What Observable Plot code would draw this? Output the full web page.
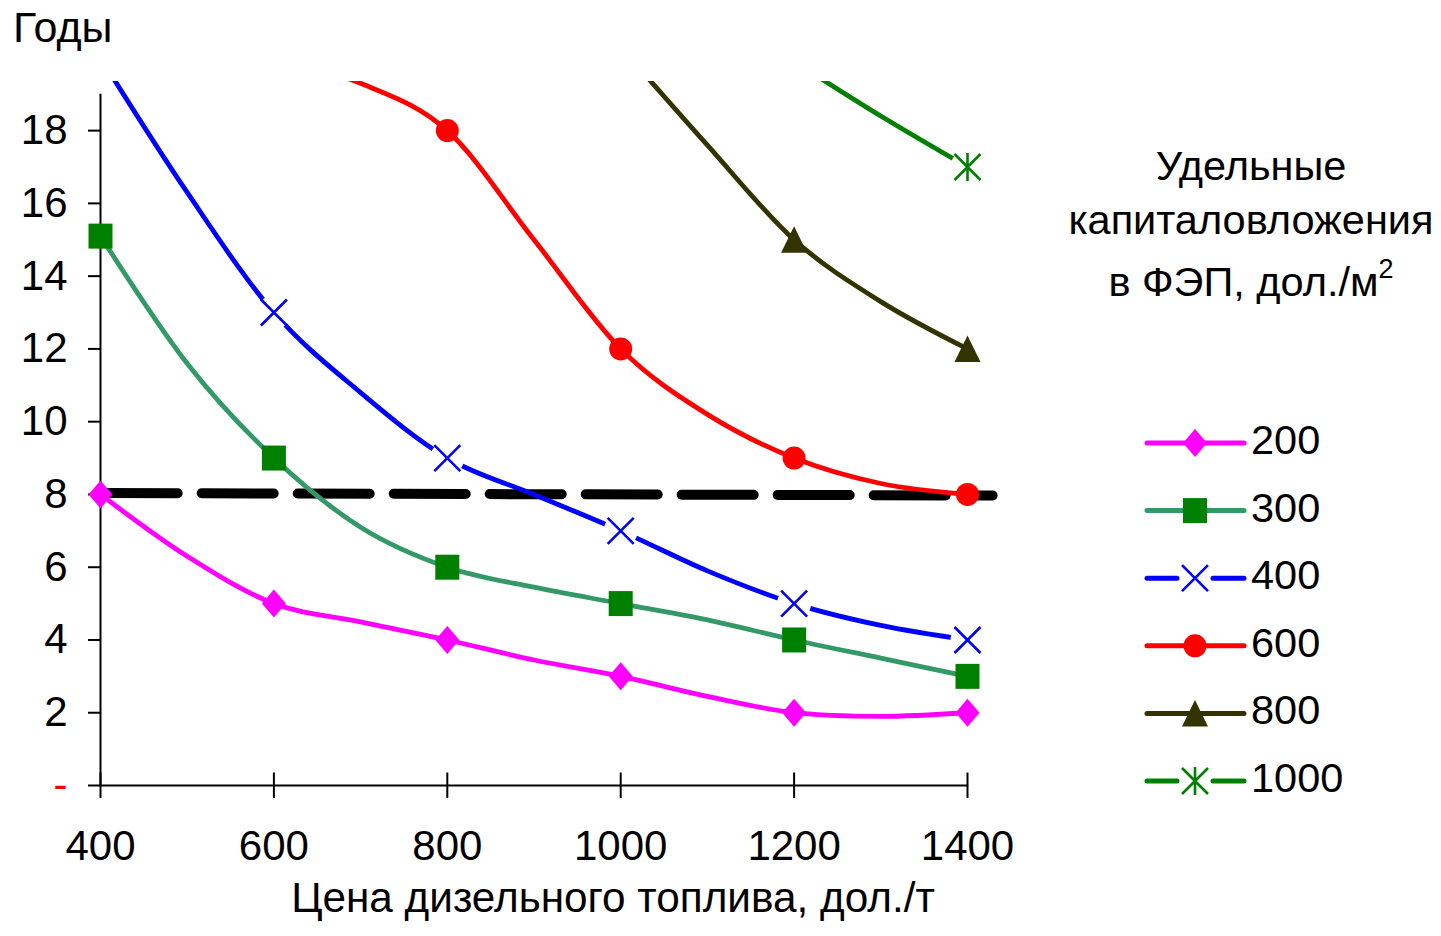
<!DOCTYPE html>
<html>
<head>
<meta charset="utf-8">
<script src="https://cdn.jsdelivr.net/npm/d3@7"></script>
<script src="https://cdn.jsdelivr.net/npm/@observablehq/plot@0.6"></script>
<style>
html, body { margin: 0; padding: 0; background: #fff; }
#wrap { position: relative; width: 1441px; height: 936px; font-family: "Liberation Sans", Arial, sans-serif; }
#wrap svg { position: absolute; left: 0; top: 0; }
</style>
</head>
<body>
<div id="wrap"></div>
<script>
// ---------- data ----------
const prices = [400, 500, 600, 700, 800, 900, 1000, 1100, 1200, 1300, 1400];
const s200  = [8, 6.3, 5, 4.5, 4, 3.45, 3, 2.45, 2, 1.9, 2];
const s300  = [15.1, 11.6, 9, 7.1, 6, 5.45, 5, 4.55, 4, 3.5, 3];
const s400  = [20, 16.3, 13, 10.8, 9, 8, 7, 5.9, 5, 4.4, 4];
const s600  = [null, null, 20, 19.3, 18, 15, 12, 10.2, 9, 8.3, 8];
const s800  = [null, null, null, null, null, null, 20.3, 17.6, 15, 13.3, 12];
const s1000 = [null, null, null, null, null, null, null, null, 19.9, 18.4, 17];
const seriesNames = ["200", "300", "400", "600", "800", "1000"];
const seriesValues = [s200, s300, s400, s600, s800, s1000];
const markerPrices = [400, 600, 800, 1000, 1200, 1400];
const xTicks = [400, 600, 800, 1000, 1200, 1400];
const yTicks = [2, 4, 6, 8, 10, 12, 14, 16, 18];
const zeroTick = [0];
const zeroLabel = "-";
const yAxisTop = 19;
const yDomainTop = 19.35;
const thresholdX = [406, 1429];
const thresholdY = [8.04, 7.97];
const yTitle = "Годы";
const xTitle = "Цена дизельного топлива, дол./т";
const legendTitle = ["Удельные", "капиталовложения", "в ФЭП, дол./м"];
const legendSup = "2";

// ---------- styles ----------
const FS = 42;
const sym = {
  diamond:  {draw(c) { c.moveTo(0, -14); c.lineTo(12, 0); c.lineTo(0, 14); c.lineTo(-12, 0); c.closePath(); }},
  square:   {draw(c) { c.rect(-12, -12.5, 24, 25); }},
  circle:   {draw(c) { c.moveTo(11.5, 0); c.arc(0, 0, 11.5, 0, 2 * Math.PI); c.closePath(); }},
  triangle: {draw(c) { c.moveTo(0, -13.5); c.lineTo(13, 13); c.lineTo(-13, 13); c.closePath(); }},
  times:    {draw(c) { c.moveTo(-13, -13); c.lineTo(13, 13); c.moveTo(13, -13); c.lineTo(-13, 13); }},
  asterisk: {draw(c) { c.moveTo(-13, -13); c.lineTo(13, 13); c.moveTo(13, -13); c.lineTo(-13, 13); c.moveTo(0, -14); c.lineTo(0, 14); }},
  tickUp:   {draw(c) { c.moveTo(0, 0); c.lineTo(0, -13); }}
};
const styles = [
  {line: "#FF00FF", marker: "#FF00FF", symbol: "diamond",  filled: true,  gap: false},
  {line: "#339966", marker: "#008000", symbol: "square",   filled: true,  gap: false},
  {line: "#0000FF", marker: "#0000FF", symbol: "times",    filled: false, gap: true},
  {line: "#FF0000", marker: "#FF0000", symbol: "circle",   filled: true,  gap: false},
  {line: "#333300", marker: "#333300", symbol: "triangle", filled: true,  gap: false},
  {line: "#008000", marker: "#008000", symbol: "asterisk", filled: false, gap: true}
];

// ---------- tables ----------
const series = seriesNames.map((name, i) => ({
  name,
  rows: prices.map((p, j) => ({x: p, y: seriesValues[i][j]})).filter(d => d.y != null),
  style: styles[i]
}));
const threshold = thresholdX.map((x, i) => ({x, y: thresholdY[i]}));

const marks = [];
marks.push(Plot.line(threshold, {x: "x", y: "y", stroke: "black", strokeWidth: 10, strokeDasharray: "72,24"}));
for (const s of series) {
  marks.push(Plot.line(s.rows, {
    x: "x", y: "y", stroke: s.style.line, strokeWidth: 4.8,
    curve: "catmull-rom", tension: 0, clip: true,
    strokeLinecap: "round", strokeLinejoin: "round"
  }));
}
marks.push(Plot.ruleX([{x: 400, y1: 0, y2: yAxisTop}], {x: "x", y1: "y1", y2: "y2", stroke: "black", strokeWidth: 2}));
marks.push(Plot.ruleY(zeroTick, {y: d => d, stroke: "black", strokeWidth: 2}));
marks.push(Plot.axisY(yTicks, {tickSize: 12, tickPadding: 21, fontSize: FS, stroke: "black", fill: "black", strokeWidth: 2, label: null}));
marks.push(Plot.axisY(zeroTick, {tickSize: 12, tickPadding: 21, fontSize: FS, stroke: "black", fill: "#FF0000", strokeWidth: 2, tickFormat: () => zeroLabel, label: null}));
marks.push(Plot.axisX(xTicks, {tickSize: 13, tickPadding: 32, fontSize: FS, stroke: "black", fill: "black", strokeWidth: 2, tickFormat: d => String(d), label: null}));
marks.push(Plot.dot(xTicks.map(x => ({x, y: 0})), {x: "x", y: "y", symbol: sym.tickUp, r: 5, stroke: "black", strokeWidth: 2, fill: "none"}));
for (const s of series) {
  const pts = s.rows.filter(d => markerPrices.includes(d.x) && d.y <= yAxisTop);
  if (s.style.gap) {
    marks.push(Plot.dot(pts, {x: "x", y: "y", r: 17, fill: "white", stroke: "none"}));
  }
  marks.push(Plot.dot(pts, s.style.filled
    ? {x: "x", y: "y", symbol: sym[s.style.symbol], r: 10, fill: s.style.marker, stroke: "none"}
    : {x: "x", y: "y", symbol: sym[s.style.symbol], r: 10, fill: "none", stroke: s.style.marker, strokeWidth: 2.6}));
}

const chart = Plot.plot({
  width: 1441,
  height: 936,
  marginLeft: 100,
  marginRight: 474,
  marginTop: 81,
  marginBottom: 151,
  x: {domain: [400, 1400], label: null},
  y: {domain: [0, yDomainTop], label: null},
  style: {fontFamily: '"Liberation Sans", Arial, sans-serif', color: "black", background: "white", overflow: "visible"},
  marks
});
document.getElementById("wrap").appendChild(chart);

// ---------- overlay: titles and legend ----------
const ov = d3.select("#wrap").append("svg")
  .attr("width", 1441).attr("height", 936)
  .style("pointer-events", "none")
  .style("font-family", '"Liberation Sans", Arial, sans-serif');

ov.append("text").attr("x", 13).attr("y", 42).attr("font-size", 43).attr("fill", "black").text(yTitle);
ov.append("text").attr("x", 613).attr("y", 912).attr("text-anchor", "middle").attr("font-size", 42.3).attr("fill", "black").text(xTitle);

const titleBase = [180, 234, 296];
legendTitle.forEach((t, i) => {
  const tx = ov.append("text").attr("x", 1251).attr("y", titleBase[i]).attr("text-anchor", "middle")
    .attr("font-size", 41.5).attr("fill", "black").text(t);
  if (i === legendTitle.length - 1) {
    tx.append("tspan").attr("dy", -18).attr("font-size", 27).text(legendSup);
  }
});

series.forEach((s, i) => {
  const y = 443 + i * 67.6;
  const g = ov.append("g");
  const st = s.style;
  const segs = st.gap ? [[1147, 1177], [1213, 1244]] : [[1147, 1244]];
  for (const [a, b] of segs) {
    g.append("line").attr("x1", a).attr("x2", b).attr("y1", y).attr("y2", y)
      .attr("stroke", st.line).attr("stroke-width", 5).attr("stroke-linecap", "round");
  }
  const p = d3.path();
  sym[st.symbol].draw(p);
  g.append("path").attr("d", p.toString()).attr("transform", `translate(1195,${y})`)
    .attr("fill", st.filled ? st.marker : "none")
    .attr("stroke", st.filled ? "none" : st.marker)
    .attr("stroke-width", 2.6);
  g.append("text").attr("x", 1251).attr("y", y + 11).attr("font-size", 41.5).attr("fill", "black").text(s.name);
});
</script>
</body>
</html>
